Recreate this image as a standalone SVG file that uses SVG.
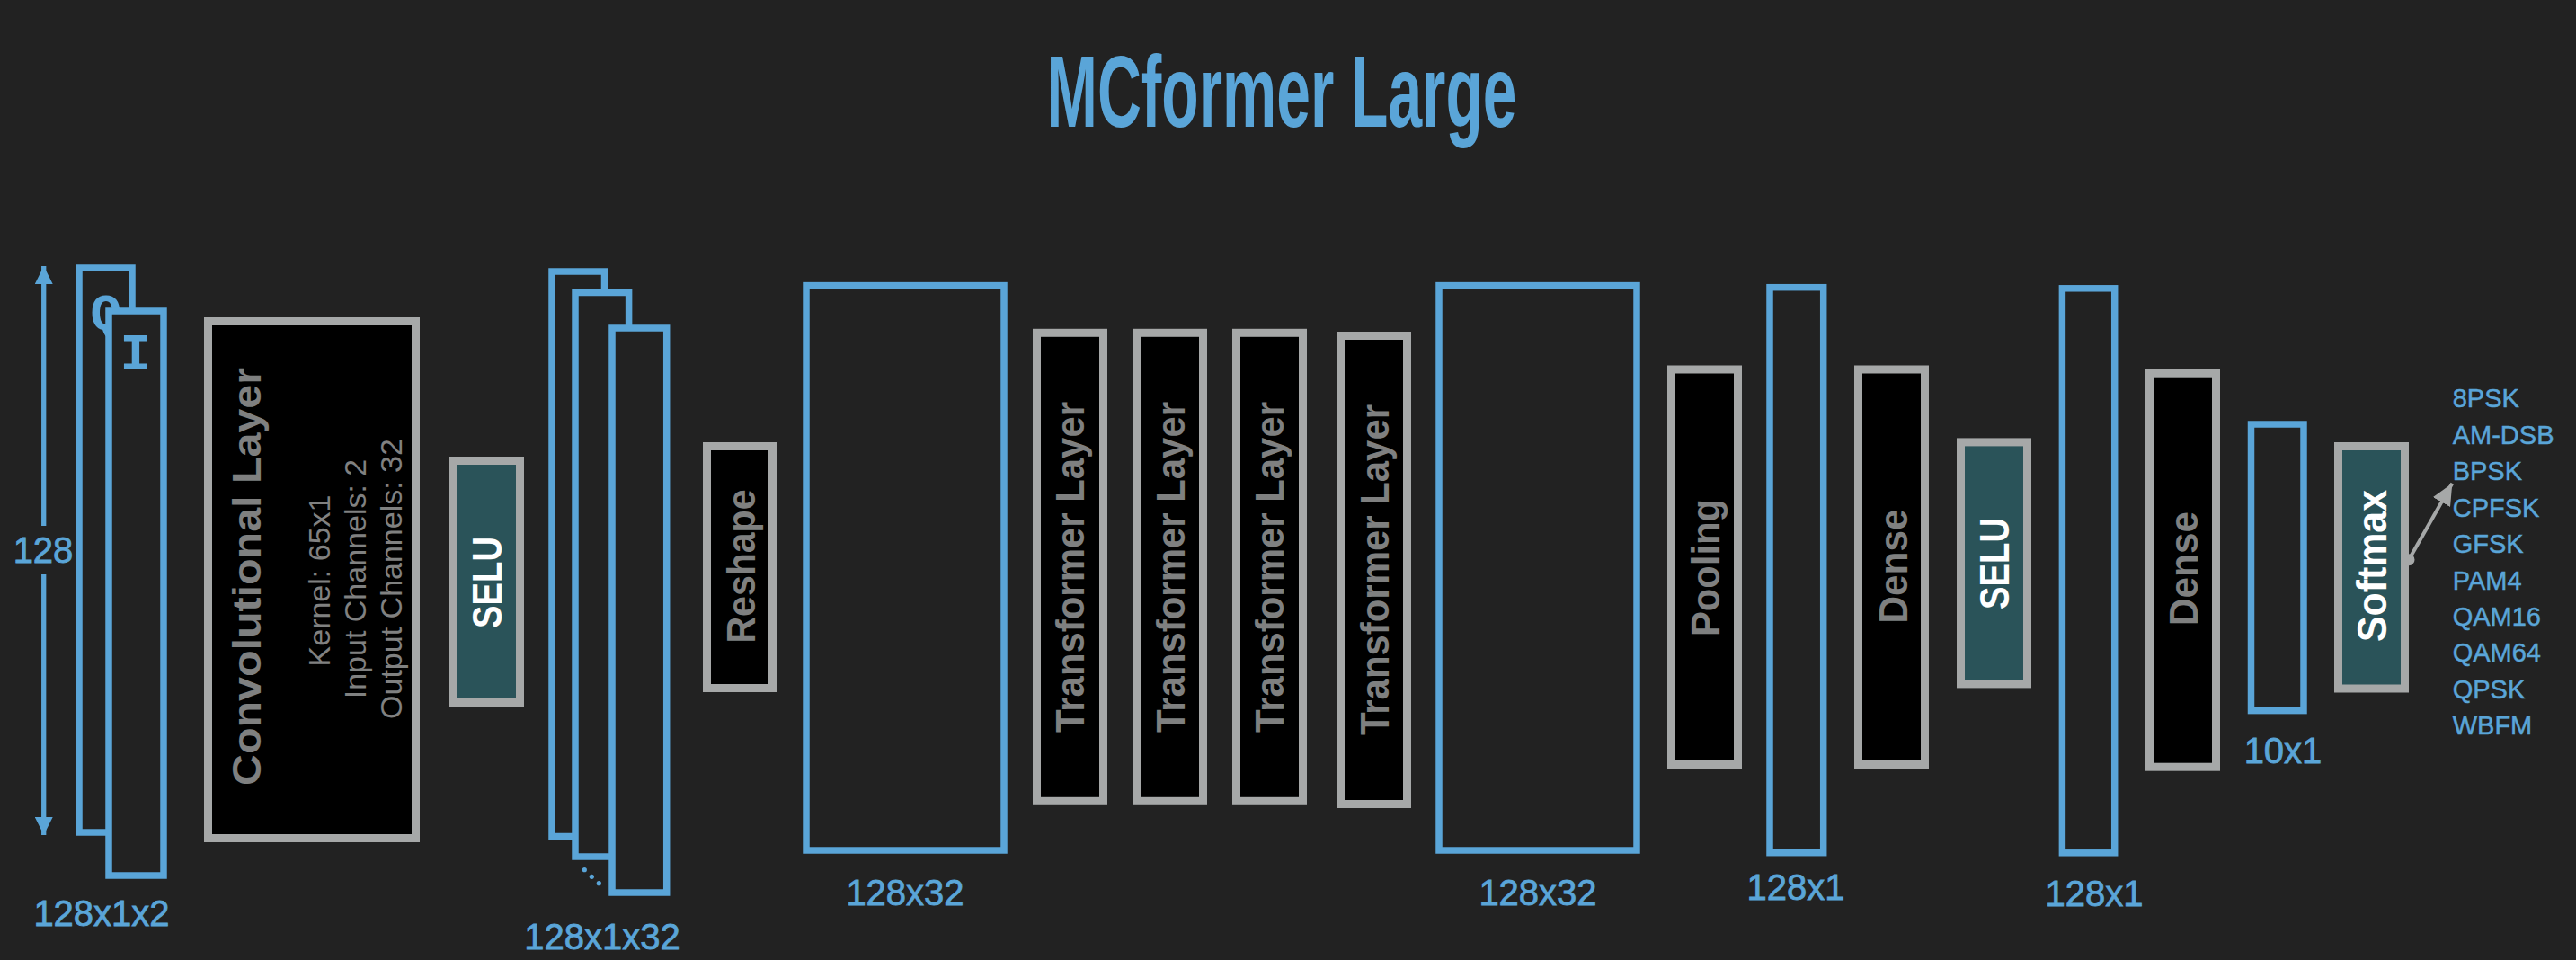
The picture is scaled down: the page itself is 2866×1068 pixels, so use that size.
<svg xmlns="http://www.w3.org/2000/svg" width="2866" height="1068" viewBox="0 0 2866 1068">
  <style>
    .blue { fill: #222222; stroke: #5aa5d8; stroke-width: 7.5; }
    .layer { fill: #000000; stroke: #a6a8a8; stroke-width: 9; }
    .act { fill: #2a5359; stroke: #a6a8a8; stroke-width: 9; }
    .dim { font-family: "Liberation Sans", Arial, sans-serif; font-size: 40px; fill: #5aa5d8; stroke: #5aa5d8; stroke-width: 0.8; text-anchor: middle; }
    .lbl { font-family: "Liberation Sans", Arial, sans-serif; font-weight: bold; font-size: 44px; fill: #7f8080; text-anchor: middle; }
    .wlbl { font-family: "Liberation Sans", Arial, sans-serif; font-weight: bold; font-size: 46px; fill: #ffffff; text-anchor: middle; }
    .small { font-family: "Liberation Sans", Arial, sans-serif; font-size: 34px; fill: #808181; text-anchor: middle; }
    .mono { font-family: "Liberation Mono", "Courier New", monospace; font-weight: bold; font-size: 58px; fill: #5aa5d8; text-anchor: middle; }
    .cls { font-family: "Liberation Sans", Arial, sans-serif; font-size: 29px; fill: #5aa5d8; stroke: #5aa5d8; stroke-width: 0.5; }
    .title { font-family: "Liberation Sans", Arial, sans-serif; font-weight: bold; font-size: 114px; fill: #5aa5d8; text-anchor: middle; }
  </style>
  <defs>
    <marker id="bluehead" markerUnits="userSpaceOnUse" markerWidth="20" markerHeight="20" refX="20" refY="10" orient="auto">
      <path d="M0,0 L20,10 L0,20 z" fill="#5aa5d8"/>
    </marker>
    <marker id="grayhead" markerUnits="userSpaceOnUse" markerWidth="24" markerHeight="22" refX="24" refY="11" orient="auto">
      <path d="M0,0 L24,11 L0,22 z" fill="#a6a8a8"/>
    </marker>
  </defs>
  <rect x="0" y="0" width="2866" height="1068" fill="#222222"/>

  <text class="title" x="1426" y="140.7" textLength="523" lengthAdjust="spacingAndGlyphs">MCformer Large</text>

  <g id="dim-128">
    <line x1="48.7" y1="585" x2="48.7" y2="296" stroke="#5aa5d8" stroke-width="5.3" marker-end="url(#bluehead)"/>
    <line x1="48.7" y1="639" x2="48.7" y2="929" stroke="#5aa5d8" stroke-width="5.3" marker-end="url(#bluehead)"/>
    <text class="dim" x="48" y="626">128</text>
  </g>

  <g id="input">
    <rect class="blue" x="88" y="298" width="59" height="628"/>
    <text class="mono" x="118" y="367">Q</text>
    <rect class="blue" x="121" y="346" width="61" height="628"/>
    <text class="mono" x="151" y="411">I</text>
    <text class="dim" x="113" y="1030">128x1x2</text>
  </g>

  <g id="conv">
    <rect class="layer" x="231.5" y="357.5" width="231" height="575"/>
    <text class="lbl" transform="translate(290,641.5) rotate(-90)" textLength="465" lengthAdjust="spacingAndGlyphs">Convolutional Layer</text>
    <text class="small" transform="translate(367,646) rotate(-90)">Kernel: 65x1</text>
    <text class="small" transform="translate(407,644) rotate(-90)">Input Channels: 2</text>
    <text class="small" transform="translate(447,644) rotate(-90)">Output Channels: 32</text>
  </g>

  <g id="selu1">
    <rect class="act" x="504.5" y="512.5" width="74" height="269"/>
    <text class="wlbl" transform="translate(558,648) rotate(-90)" textLength="102" lengthAdjust="spacingAndGlyphs">SELU</text>
  </g>

  <g id="conv-out">
    <rect class="blue" x="614" y="302" width="58.5" height="628.5"/>
    <rect class="blue" x="640" y="325.5" width="59.6" height="627.5"/>
    <rect class="blue" x="681" y="365" width="60.7" height="628"/>
    <circle cx="650.3" cy="967.7" r="2.6" fill="#5aa5d8"/>
    <circle cx="658.3" cy="975.3" r="2.6" fill="#5aa5d8"/>
    <circle cx="666.3" cy="982.7" r="2.6" fill="#5aa5d8"/>
    <text class="dim" x="670" y="1056">128x1x32</text>
  </g>

  <g id="reshape">
    <rect class="layer" x="786.5" y="496.5" width="73" height="269"/>
    <text class="lbl" transform="translate(839.5,630) rotate(-90)" textLength="171" lengthAdjust="spacingAndGlyphs">Reshape</text>
  </g>

  <g id="seq1">
    <rect class="blue" x="897" y="317.6" width="220" height="628.4"/>
    <text class="dim" x="1007" y="1007">128x32</text>
  </g>

  <g id="transformer1">
    <rect class="layer" x="1153.5" y="370.3" width="74" height="521"/>
    <text class="lbl" transform="translate(1206.4,631) rotate(-90)" textLength="368" lengthAdjust="spacingAndGlyphs">Transformer Layer</text>
  </g>
  <g id="transformer2">
    <rect class="layer" x="1264.5" y="370.3" width="74" height="521"/>
    <text class="lbl" transform="translate(1318,631) rotate(-90)" textLength="368" lengthAdjust="spacingAndGlyphs">Transformer Layer</text>
  </g>
  <g id="transformer3">
    <rect class="layer" x="1375.5" y="370.3" width="74" height="521"/>
    <text class="lbl" transform="translate(1428.3,631) rotate(-90)" textLength="368" lengthAdjust="spacingAndGlyphs">Transformer Layer</text>
  </g>
  <g id="transformer4">
    <rect class="layer" x="1491.5" y="373.5" width="74" height="521"/>
    <text class="lbl" transform="translate(1545,634) rotate(-90)" textLength="368" lengthAdjust="spacingAndGlyphs">Transformer Layer</text>
  </g>

  <g id="seq2">
    <rect class="blue" x="1601" y="317.6" width="220" height="628.4"/>
    <text class="dim" x="1711" y="1007">128x32</text>
  </g>

  <g id="pooling">
    <rect class="layer" x="1859.5" y="411" width="74" height="439.5"/>
    <text class="lbl" transform="translate(1913,631.5) rotate(-90)" textLength="153" lengthAdjust="spacingAndGlyphs">Pooling</text>
  </g>

  <g id="vec1">
    <rect class="blue" x="1969" y="319.7" width="59.7" height="629"/>
    <text class="dim" x="1998" y="1001">128x1</text>
  </g>

  <g id="dense1">
    <rect class="layer" x="2067.5" y="411" width="74" height="439.5"/>
    <text class="lbl" transform="translate(2121.5,630) rotate(-90)" textLength="127" lengthAdjust="spacingAndGlyphs">Dense</text>
  </g>

  <g id="selu2">
    <rect class="act" x="2181.5" y="491.9" width="74" height="269"/>
    <text class="wlbl" transform="translate(2235,627) rotate(-90)" textLength="102" lengthAdjust="spacingAndGlyphs">SELU</text>
  </g>

  <g id="vec2">
    <rect class="blue" x="2294.4" y="320.8" width="58.3" height="628"/>
    <text class="dim" x="2330" y="1007.5">128x1</text>
  </g>

  <g id="dense2">
    <rect class="layer" x="2391.5" y="415.2" width="74" height="438"/>
    <text class="lbl" transform="translate(2444.7,632.5) rotate(-90)" textLength="127" lengthAdjust="spacingAndGlyphs">Dense</text>
  </g>

  <g id="logits">
    <rect class="blue" x="2504.5" y="472" width="58.5" height="318.6"/>
    <text class="dim" x="2540" y="849">10x1</text>
  </g>

  <g id="softmax">
    <rect class="act" x="2601.5" y="496.5" width="74" height="269.5"/>
    <text class="wlbl" transform="translate(2654.5,629.5) rotate(-90)" textLength="169" lengthAdjust="spacingAndGlyphs">Softmax</text>
  </g>

  <g id="classes">
    <text class="cls" x="2728.7" y="453.3">8PSK</text>
    <text class="cls" x="2728.7" y="493.5">AM-DSB</text>
    <text class="cls" x="2728.7" y="534.1">BPSK</text>
    <text class="cls" x="2728.7" y="574.5">CPFSK</text>
    <text class="cls" x="2728.7" y="615">GFSK</text>
    <text class="cls" x="2728.7" y="655.6">PAM4</text>
    <text class="cls" x="2728.7" y="696">QAM16</text>
    <text class="cls" x="2728.7" y="736.3">QAM64</text>
    <text class="cls" x="2728.7" y="776.8">QPSK</text>
    <text class="cls" x="2728.7" y="817.3">WBFM</text>
  </g>

  <g id="connectors">
    <line x1="2680" y1="622.7" x2="2728.3" y2="537.7" stroke="#a6a8a8" stroke-width="4" marker-end="url(#grayhead)"/>
    <circle cx="2680" cy="622.7" r="6.5" fill="#a6a8a8"/>
  </g>
</svg>
